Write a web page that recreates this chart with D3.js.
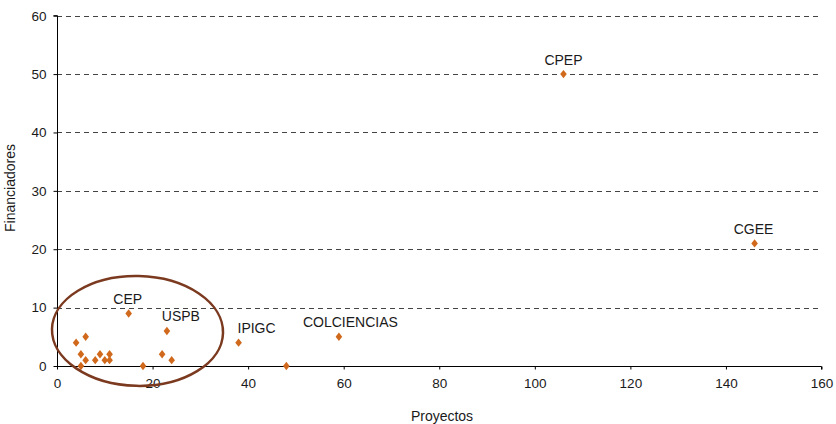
<!DOCTYPE html>
<html><head><meta charset="utf-8">
<script src="https://cdn.jsdelivr.net/npm/d3@7"></script>
<style>
body{margin:0;background:#fff;}
text{font-family:"Liberation Sans",Arial,sans-serif;fill:#1a1a1a;}
</style></head>
<body><svg id="c" width="836" height="424"></svg>
<script>
const names = ["","","","","","","","","","","CEP","","USPB","","","IPIGC","","COLCIENCIAS","CPEP","CGEE"];
const proyectos = [4,6,5,6,5,8,9,10,11,11,15,18,23,22,24,38,48,59,106,146];
const financiadores = [4,5,2,1,0,1,2,1,2,1,9,0,6,2,1,4,0,5,50,21];
const labelShift = [0,0,0,0,0,0,0,0,0,0,-1,0,14,0,0,18,0,11.5,0,-1];
const xTicks = [0,20,40,60,80,100,120,140,160];
const yTicks = [0,10,20,30,40,50,60];
const clusterEllipse = {cx:16.85, cy:6.0, rx:17.9, ry:9.4};

const svg = d3.select("#c");
const m = {l:57, r:14.5, t:15.7, b:58};
const W = 836, H = 424;
const x = d3.scaleLinear().domain([0,160]).range([m.l, W-m.r]);
const y = d3.scaleLinear().domain([0,60]).range([H-m.b, m.t]);

// gridlines
svg.append("g").selectAll("line").data(yTicks.filter(d=>d>0)).join("line")
  .attr("x1", x(0)).attr("x2", x(160))
  .attr("y1", d=>Math.round(y(d))+0.5).attr("y2", d=>Math.round(y(d))+0.5)
  .attr("stroke","#444").attr("stroke-width",1).attr("stroke-dasharray","5,4");

// y axis
const ya = svg.append("g").attr("transform",`translate(${Math.round(x(0))+0.5},0)`)
  .call(d3.axisLeft(y).tickValues(yTicks).tickSize(4).tickPadding(7).tickFormat(d3.format("d")));
ya.select(".domain").attr("stroke","#000").attr("d",`M-4,${y(60)}H0V${y(0)}`);
ya.selectAll("text").style("font-size","13.5px").attr("fill","#1a1a1a");

// x axis
const xa = svg.append("g").attr("transform",`translate(0,${Math.round(y(0))+0.5})`)
  .call(d3.axisBottom(x).tickValues(xTicks).tickSize(3).tickPadding(9).tickFormat(d3.format("d")));
xa.select(".domain").attr("stroke","#000").attr("d",`M${x(0)},0H${x(160)}V3`);
xa.selectAll("text").style("font-size","13.5px").attr("fill","#1a1a1a");

// axis titles
svg.append("text").attr("x", 442).attr("y", 421).attr("text-anchor","middle")
  .style("font-size","14px").text("Proyectos");
svg.append("text").attr("transform","translate(15,188) rotate(-90)").attr("text-anchor","middle")
  .style("font-size","14px").text("Financiadores");

// points
const data = proyectos.map((p,i)=>({x:p, y:financiadores[i], name:names[i], dx:labelShift[i]}));
const diamondType = {draw(ctx){ctx.moveTo(0,-4.2);ctx.lineTo(3.3,0);ctx.lineTo(0,4.2);ctx.lineTo(-3.3,0);ctx.closePath();}};
const diamond = d3.symbol().type(diamondType);
svg.append("g").selectAll("path").data(data).join("path")
  .attr("d", diamond)
  .attr("transform", d=>`translate(${x(d.x)},${y(d.y)})`)
  .attr("fill","#d0691c");

// labels
svg.append("g").selectAll("text").data(data.filter(d=>d.name)).join("text")
  .attr("x", d=>x(d.x)+d.dx).attr("y", d=>y(d.y)-9.5)
  .attr("text-anchor","middle").style("font-size","14px").text(d=>d.name);

// ellipse
svg.append("ellipse")
  .attr("cx", x(clusterEllipse.cx)).attr("cy", y(clusterEllipse.cy))
  .attr("rx", x(clusterEllipse.rx)-x(0)).attr("ry", y(0)-y(clusterEllipse.ry))
  .attr("transform", `rotate(1.3,${x(clusterEllipse.cx)},${y(clusterEllipse.cy)})`)
  .attr("fill","none").attr("stroke","#7b3a1f").attr("stroke-width",2.5);
</script></body></html>
